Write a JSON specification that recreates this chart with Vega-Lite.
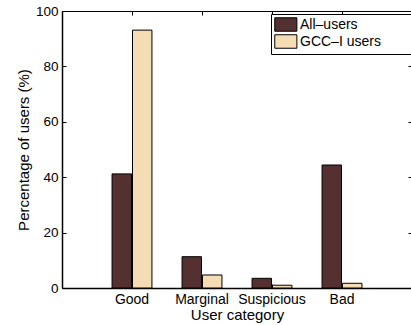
{
  "$schema": "https://vega.github.io/schema/vega-lite/v6.json",
  "width": 350,
  "height": 277,
  "autosize": {"type": "none"},
  "padding": {"left": 62, "top": 11, "right": 0, "bottom": 37},
  "background": "white",
  "data": {
    "values": [
      {"category": "Good", "series": "All–users", "value": 41.2},
      {"category": "Good", "series": "GCC–I users", "value": 93.1},
      {"category": "Marginal", "series": "All–users", "value": 11.3},
      {"category": "Marginal", "series": "GCC–I users", "value": 4.7},
      {"category": "Suspicious", "series": "All–users", "value": 3.5},
      {"category": "Suspicious", "series": "GCC–I users", "value": 1.0},
      {"category": "Bad", "series": "All–users", "value": 44.4},
      {"category": "Bad", "series": "GCC–I users", "value": 1.7}
    ]
  },
  "config": {
    "view": {"stroke": "black", "strokeWidth": 1},
    "font": "Liberation Sans",
    "axis": {
      "domainColor": "black",
      "tickColor": "black",
      "labelColor": "black",
      "titleColor": "black",
      "labelFont": "Liberation Sans",
      "titleFont": "Liberation Sans",
      "labelFontSize": 14,
      "titleFontSize": 15,
      "titleFontWeight": "normal",
      "grid": false
    }
  },
  "layer": [
    {
      "mark": {"type": "bar", "stroke": "black", "strokeWidth": 1},
      "encoding": {
        "x": {
          "field": "category",
          "type": "nominal",
          "sort": ["Good", "Marginal", "Suspicious", "Bad"],
          "scale": {"paddingInner": 0.43, "paddingOuter": 0.715},
          "axis": {
            "title": "User category",
            "labelAngle": 0,
            "tickSize": -4,
            "labelPadding": 8,
            "titlePadding": 1,
            "domainWidth": 1.5
          }
        },
        "xOffset": {
          "field": "series",
          "sort": ["All–users", "GCC–I users"],
          "scale": {"paddingInner": 0.05}
        },
        "y": {
          "field": "value",
          "type": "quantitative",
          "scale": {"domain": [0, 100], "nice": false},
          "axis": {
            "title": "Percentage of users (%)",
            "values": [0, 20, 40, 60, 80, 100],
            "labelFontSize": 13.5,
            "tickSize": -4,
            "labelPadding": 8,
            "titlePadding": 4,
            "domainWidth": 1.5
          }
        },
        "color": {
          "field": "series",
          "type": "nominal",
          "scale": {"domain": ["All–users", "GCC–I users"], "range": ["#553030", "#f4dcb4"]},
          "legend": {
            "orient": "none",
            "legendX": 209,
            "legendY": 3,
            "title": null,
            "strokeColor": "black",
            "fillColor": "white",
            "padding": 3,
            "symbolType": "M-1,-1H2.28V1H-1Z",
            "symbolSize": 182,
            "symbolStrokeColor": "black",
            "symbolStrokeWidth": 1,
            "symbolOpacity": 1,
            "labelFontSize": 14,
            "labelColor": "black",
            "labelOffset": 11,
            "labelExpr": "datum.label + '\u2800\u2800\u2800'",
            "rowPadding": -5
          }
        }
      }
    },
    {
      "mark": {"type": "bar", "opacity": 0},
      "encoding": {
        "x": {
          "field": "category",
          "type": "nominal",
          "sort": ["Good", "Marginal", "Suspicious", "Bad"],
          "axis": {"orient": "top", "labels": false, "title": null, "tickSize": -4, "domain": false}
        },
        "y": {
          "field": "value",
          "type": "quantitative",
          "axis": {"orient": "right", "labels": false, "title": null, "tickSize": -4, "values": [0, 20, 40, 60, 80, 100], "domain": false}
        }
      }
    }
  ],
  "resolve": {"axis": {"x": "independent", "y": "independent"}}
}
